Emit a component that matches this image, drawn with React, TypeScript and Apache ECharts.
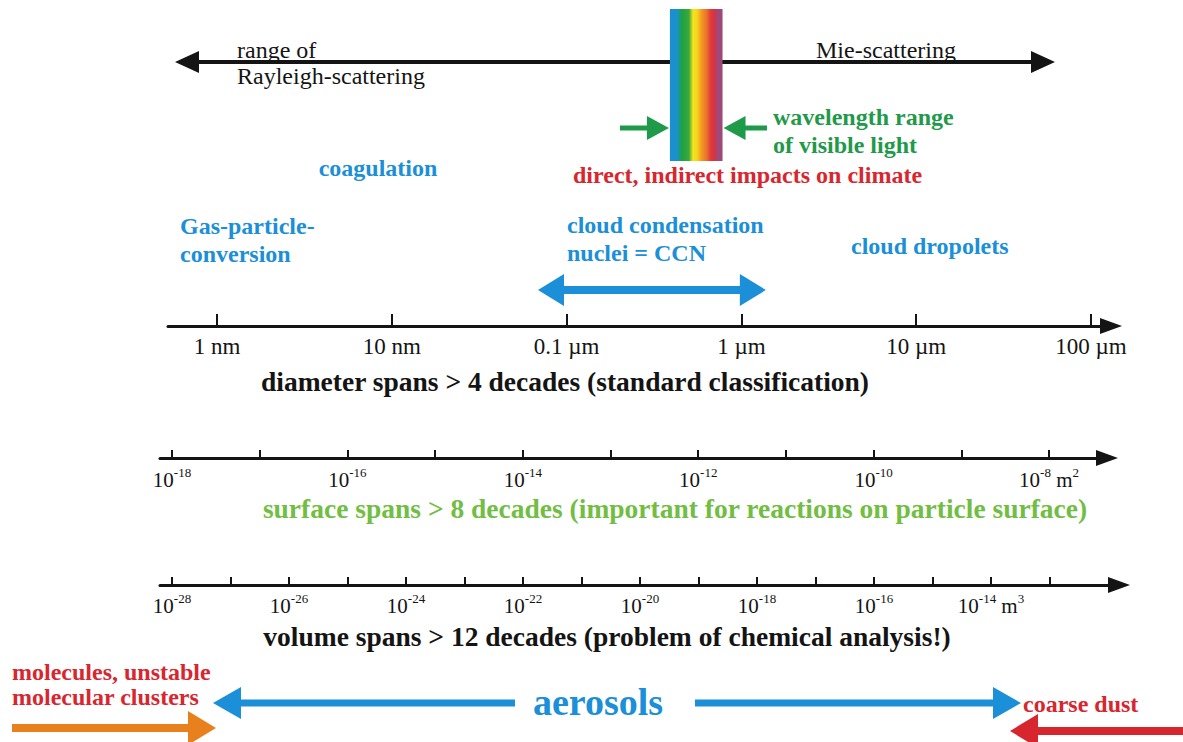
import React, { useEffect, useRef } from "react";
import * as echarts from "echarts";

// ---- data ----
// diameter axis: value = log10(diameter / 1 nm)
const diameterTicks = [0, 1, 2, 3, 4, 5];
const diameterLabels = ["1 nm", "10 nm", "0.1 µm", "1 µm", "10 µm", "100 µm"];
// surface axis: value = log10(surface / m²)
const surfaceTicks = [-18, -17, -16, -15, -14, -13, -12, -11, -10, -9, -8];
const surfaceLabelExps = [-18, -16, -14, -12, -10, -8];
// volume axis: value = log10(volume / m³)
const volumeTicks = [-28, -27, -26, -25, -24, -23, -22, -21, -20, -19, -18, -17, -16, -15, -14, -13];
const volumeLabelExps = [-28, -26, -24, -22, -20, -18, -16, -14];
// ranges in nm (diameter)
const visibleLightNm = [390, 780];
const ccnRangeNm = [68.6, 1380];

const SERIF = '"Liberation Serif", "Times New Roman", serif';
const BLUE = "#1b8fd8";
const RED = "#d8262e";
const GREEN = "#1f9a4a";
const LGREEN = "#72be44";
const ORANGE = "#e8801e";
const INK = "#141414";

function arrow(x1: number, x2: number, y: number, shaft: number, headLen: number, headW: number, color: string, both = false) {
  const dir = Math.sign(x2 - x1);
  const hb = x2 - dir * headLen;
  let pts: number[][];
  if (both) {
    const hb1 = x1 + dir * headLen;
    pts = [
      [x1, y], [hb1, y - headW / 2], [hb1, y - shaft / 2], [hb, y - shaft / 2], [hb, y - headW / 2],
      [x2, y], [hb, y + headW / 2], [hb, y + shaft / 2], [hb1, y + shaft / 2], [hb1, y + headW / 2],
    ];
  } else {
    pts = [
      [x1, y - shaft / 2], [hb, y - shaft / 2], [hb, y - headW / 2], [x2, y],
      [hb, y + headW / 2], [hb, y + shaft / 2], [x1, y + shaft / 2],
    ];
  }
  return { type: "polygon", silent: true, shape: { points: pts }, style: { fill: color } };
}

function txt(text: string, x: number, y: number, color: string, size: number, bold: boolean, align = "left") {
  return {
    type: "text",
    silent: true,
    x,
    y,
    style: {
      text,
      fill: color,
      fontFamily: SERIF,
      fontSize: size,
      fontWeight: bold ? "bold" : "normal",
      align,
      verticalAlign: "middle",
    },
  };
}

const supRich = {
  b: { fontFamily: SERIF, fontSize: 21, color: INK, lineHeight: 24, verticalAlign: "bottom" },
  s: { fontFamily: SERIF, fontSize: 13, color: INK, lineHeight: 13, verticalAlign: "top" },
};

function baseAxis(gridIndex: number, min: number, max: number) {
  return {
    type: "value",
    gridIndex,
    min,
    max,
    position: "bottom",
    splitLine: { show: false },
    axisLine: {
      show: true,
      onZero: false,
      symbol: ["none", "triangle"],
      symbolSize: [16, 22],
      lineStyle: { color: INK, width: 3 },
    },
  };
}

export default function App() {
  const ref = useRef<HTMLDivElement>(null);
  useEffect(() => {
    if (!ref.current) return;
    const chart = echarts.init(ref.current, undefined, { renderer: "svg" });

    const spectrum = new echarts.graphic.LinearGradient(0, 0, 1, 0, [
      { offset: 0, color: "#1a8fd6" },
      { offset: 0.14, color: "#1a92c8" },
      { offset: 0.22, color: "#1ea048" },
      { offset: 0.36, color: "#3aa83a" },
      { offset: 0.44, color: "#f3e61c" },
      { offset: 0.52, color: "#f6d21e" },
      { offset: 0.6, color: "#f29a22" },
      { offset: 0.7, color: "#ec6f2c" },
      { offset: 0.78, color: "#e0383a" },
      { offset: 0.86, color: "#cf3448" },
      { offset: 0.9, color: "#a54676" },
      { offset: 1, color: "#9a4a7c" },
    ]);

    const option: any = {
      animation: false,
      backgroundColor: "#ffffff",
      grid: [
        { left: 168, top: 9, width: 943, height: 317 },
        { left: 160, top: 400, width: 947, height: 58 },
        { left: 160, top: 540, width: 959, height: 45 },
      ],
      xAxis: [
        {
          ...baseAxis(0, -0.2803, 5.1144),
          axisTick: { show: true, inside: true, length: 12, lineStyle: { color: INK, width: 2 }, customValues: diameterTicks },
          axisLabel: {
            customValues: diameterTicks,
            formatter: (v: number) => diameterLabels[diameterTicks.indexOf(Math.round(v))] ?? "",
            fontFamily: SERIF,
            fontSize: 23,
            color: INK,
            margin: 9,
          },
        },
        {
          ...baseAxis(1, -18.137, -7.339),
          axisTick: { show: true, inside: true, length: 8, lineStyle: { color: INK, width: 2 }, customValues: surfaceTicks },
          axisLabel: {
            customValues: surfaceLabelExps,
            formatter: (v: number) => {
              const e = Math.round(v);
              return e === -8 ? `{b|10}{s|${e}}{b| m}{s|2}` : `{b|10}{s|${e}}`;
            },
            fontFamily: SERIF,
            fontSize: 21,
            color: INK,
            rich: supRich,
            margin: 8,
          },
        },
        {
          ...baseAxis(2, -28.205, -11.812),
          axisTick: { show: true, inside: true, length: 8, lineStyle: { color: INK, width: 2 }, customValues: volumeTicks },
          axisLabel: {
            customValues: volumeLabelExps,
            formatter: (v: number) => {
              const e = Math.round(v);
              return e === -14 ? `{b|10}{s|${e}}{b| m}{s|3}` : `{b|10}{s|${e}}`;
            },
            fontFamily: SERIF,
            fontSize: 21,
            color: INK,
            rich: supRich,
            margin: 7,
          },
        },
      ],
      yAxis: [
        { type: "value", gridIndex: 0, min: 0, max: 317, show: false },
        { type: "value", gridIndex: 1, min: 0, max: 1, show: false },
        { type: "value", gridIndex: 2, min: 0, max: 1, show: false },
      ],
      series: [
        {
          type: "line",
          xAxisIndex: 0,
          yAxisIndex: 0,
          data: [],
          silent: true,
          markArea: {
            silent: true,
            itemStyle: { color: spectrum, borderWidth: 0 },
            label: { show: false },
            data: [
              [
                { coord: [Math.log10(visibleLightNm[0]), 165] },
                { coord: [Math.log10(visibleLightNm[1]), 317] },
              ],
            ],
          },
        },
      ],
    };
    chart.setOption(option);

    const px = (nm: number) => chart.convertToPixel({ xAxisIndex: 0 } as any, Math.log10(nm)) as number;
    const vl0 = px(visibleLightNm[0]);
    const vl1 = px(visibleLightNm[1]);
    const ccn0 = px(ccnRangeNm[0]);
    const ccn1 = px(ccnRangeNm[1]);

    const graphic: any[] = [
      // top scattering arrow
      arrow(175, 1055, 62, 4, 24, 22, INK, true),
      txt("range of", 237, 50, INK, 24, false),
      txt("Rayleigh-scattering", 237, 76, INK, 24, false),
      txt("Mie-scattering", 816, 50, INK, 24, false),
      // visible light arrows
      arrow(620, vl0 - 1, 128, 5, 22, 24, GREEN),
      arrow(767, vl1 + 1, 128, 5, 22, 24, GREEN),
      txt("wavelength range", 773, 117, GREEN, 24, true),
      txt("of visible light", 773, 145, GREEN, 24, true),
      txt("direct, indirect impacts on climate", 573, 175, RED, 24, true),
      // processes
      txt("coagulation", 378, 168, BLUE, 24, true, "center"),
      txt("Gas-particle-", 180, 226, BLUE, 24, true),
      txt("conversion", 180, 254, BLUE, 24, true),
      txt("cloud condensation", 567, 225, BLUE, 24, true),
      txt("nuclei = CCN", 567, 253, BLUE, 24, true),
      txt("cloud dropolets", 851, 246, BLUE, 24, true),
      arrow(ccn0, ccn1, 290, 8, 26, 32, BLUE, true),
      // axis titles
      txt("diameter spans > 4 decades (standard classification)", 565, 381, INK, 27.5, true, "center"),
      txt("surface spans > 8 decades (important for reactions on particle surface)", 675, 508, LGREEN, 27.5, true, "center"),
      txt("volume spans > 12 decades (problem of chemical analysis!)", 607, 636, INK, 27.5, true, "center"),
      // bottom
      txt("molecules, unstable", 12, 672, RED, 24, true),
      txt("molecular clusters", 12, 697, RED, 24, true),
      arrow(12, 216, 728, 8, 28, 34, ORANGE),
      arrow(515, 213, 703, 7, 28, 32, BLUE),
      arrow(695, 1021, 703, 7, 28, 32, BLUE),
      txt("aerosols", 598, 702, BLUE, 38, true, "center"),
      txt("coarse dust", 1023, 704, RED, 24, true),
      arrow(1183, 1010, 731, 8, 28, 34, RED),
    ];
    chart.setOption({ graphic });

    return () => chart.dispose();
  }, []);

  return (
    <div
      ref={ref}
      style={{ position: "fixed", left: 0, top: 0, width: 1183, height: 742, background: "#fff" }}
    />
  );
}
